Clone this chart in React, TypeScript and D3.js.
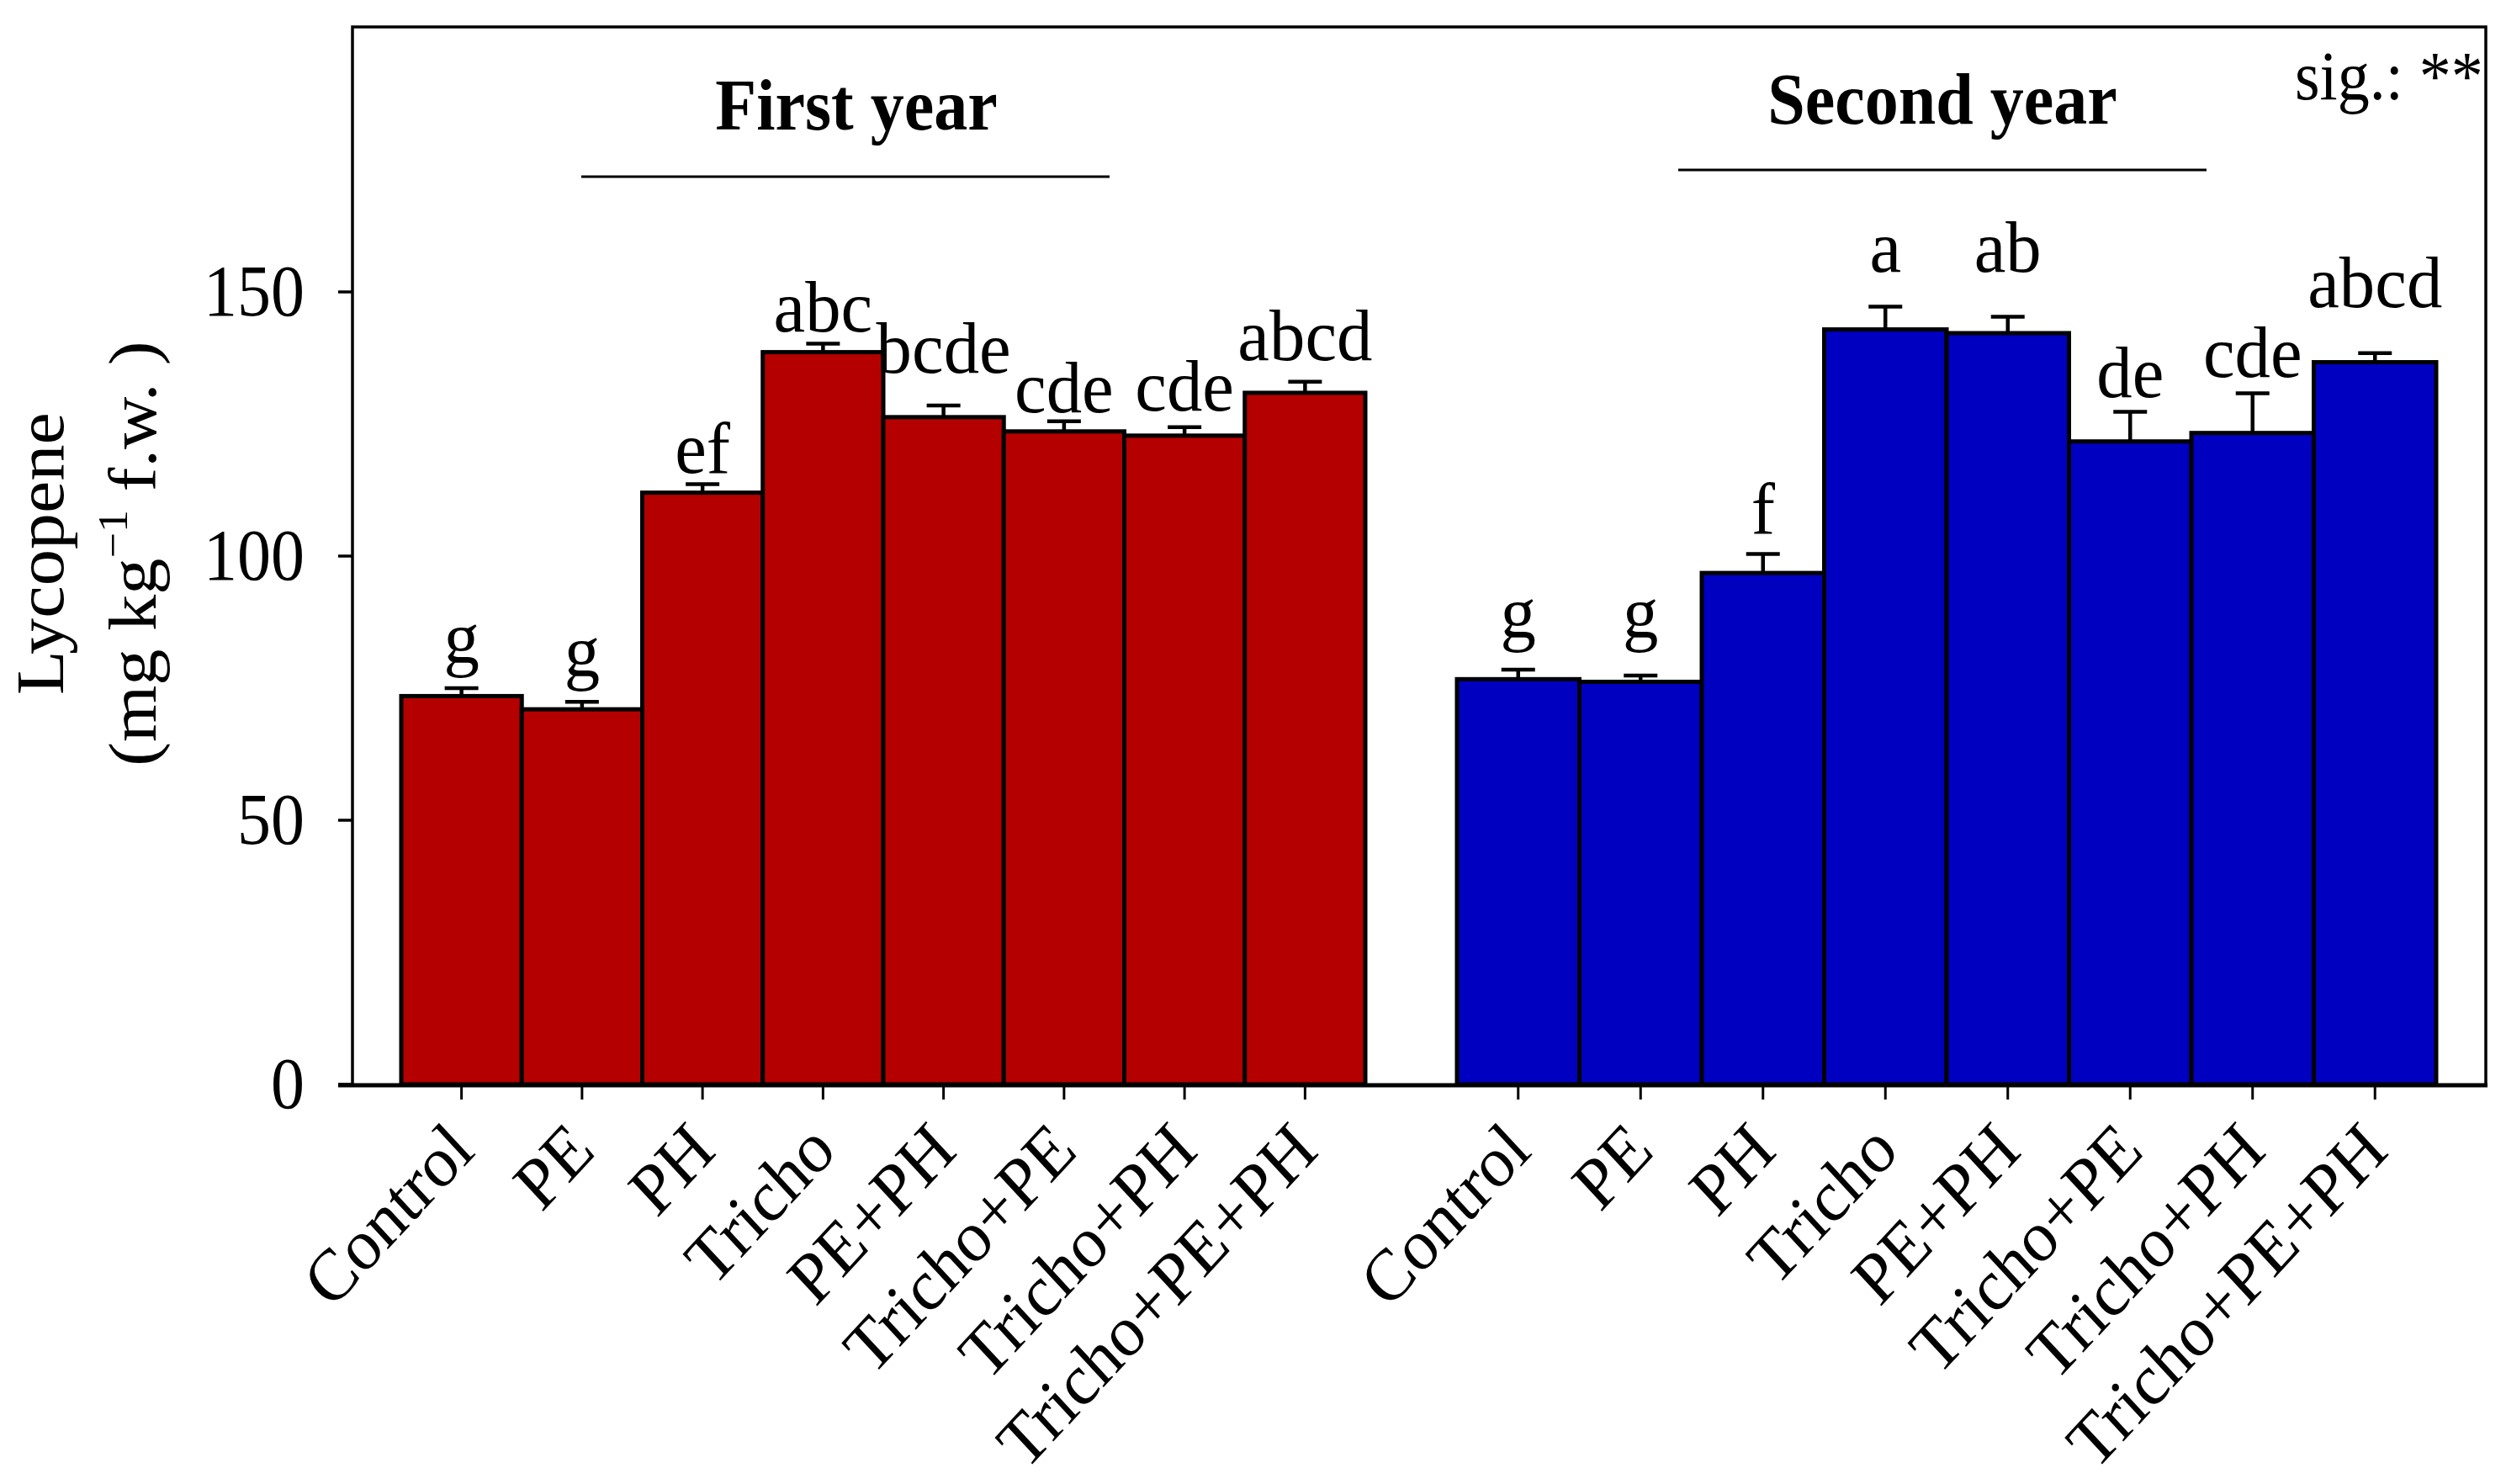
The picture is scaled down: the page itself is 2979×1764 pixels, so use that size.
import React from "react";
import * as d3 from "d3";

const categories = ["Control", "PE", "PH", "Tricho", "PE+PH", "Tricho+PE", "Tricho+PH", "Tricho+PE+PH"];
const year1 = [73.5, 71.0, 112.0, 138.6, 126.3, 123.6, 122.8, 130.9];
const year1Err = [1.5, 1.4, 1.6, 1.6, 2.2, 1.9, 1.6, 2.1];
const year2 = [76.7, 76.2, 96.8, 142.9, 142.2, 121.7, 123.3, 136.7];
const year2Err = [1.8, 1.2, 3.6, 4.3, 3.1, 5.6, 7.5, 1.7];
const letters1 = ["g", "g", "ef", "abc", "bcde", "cde", "cde", "abcd"];
const letters2 = ["g", "g", "f", "a", "ab", "de", "cde", "abcd"];
const yTicks = [0, 50, 100, 150];
const groupTitles = ["First year", "Second year"];
const sigText = "sig.: **";

// layout (pixels)
const W = 2979, H = 1764;
const FL = 419, FR = 2955, FT = 32, FB = 1290;
const FONT = "'Liberation Serif', 'Times New Roman', serif";
const K = 1.08; // vertical stretch of text
const labelGap1 = [31, 31, 14, 15, 39, 11, 20, 26];
const labelGap2 = [39, 46, 24, 42, 54, 18, 20, 55];

const RED = "#b50000";
const BLUE = "#0000c0";

export default function App() {
  const y = d3.scaleLinear().domain([0, 200]).range([1289, 33]);
  const x1 = d3.scaleBand<string>().domain(categories).range([477, 1623]).padding(0);
  const x2 = d3.scaleBand<string>().domain(categories).range([1732, 2896]).padding(0);

  const groups = [
    { x: x1, vals: year1, errs: year1Err, letters: letters1, gaps: labelGap1, color: RED, key: "g1" },
    { x: x2, vals: year2, errs: year2Err, letters: letters2, gaps: labelGap2, color: BLUE, key: "g2" },
  ];

  const T = (x: number, yy: number, extra = "", sx = 1) => `translate(${x},${yy}) scale(${sx},${K}) ${extra}`;

  return (
    <svg width={W} height={H} style={{ position: "absolute", left: 0, top: 0, display: "block", background: "#fff" }}
      fontFamily={FONT}>
      <rect x={0} y={0} width={W} height={H} fill="#fff" />
      {/* bars */}
      {groups.map((g) => (
        <g key={g.key}>
          {categories.map((c, i) => (
            <rect key={c} x={g.x(c)!} y={y(g.vals[i])} width={g.x.bandwidth()} height={y(0) - y(g.vals[i])}
              fill={g.color} stroke="#000" strokeWidth={5} />
          ))}
          {categories.map((c, i) => {
            const cx = g.x(c)! + g.x.bandwidth() / 2;
            const top = y(g.vals[i] + g.errs[i]);
            return (
              <g key={c + "e"} stroke="#000" strokeWidth={4.5}>
                <line x1={cx} x2={cx} y1={y(g.vals[i])} y2={top} />
                <line x1={cx - 20} x2={cx + 20} y1={top} y2={top} />
              </g>
            );
          })}
          {categories.map((c, i) => {
            const cx = g.x(c)! + g.x.bandwidth() / 2;
            const top = y(g.vals[i] + g.errs[i]);
            return (
              <text key={c + "l"} transform={T(cx, top - g.gaps[i], "", 1.06)} textAnchor="middle" fontSize={80} fill="#000">
                {g.letters[i]}
              </text>
            );
          })}
        </g>
      ))}
      {/* frame */}
      <rect x={FL} y={FT} width={FR - FL} height={FB - FT} fill="none" stroke="#000" strokeWidth={3.5} />
      <line x1={402} x2={FR + 2} y1={FB} y2={FB} stroke="#000" strokeWidth={5} />
      {/* y ticks */}
      {yTicks.map((t) => (
        <g key={t}>
          <line x1={402} x2={FL} y1={y(t)} y2={y(t)} stroke="#000" strokeWidth={3.5} />
          <text transform={T(362, y(t) + 28)} textAnchor="end" fontSize={80} fill="#000">{t}</text>
        </g>
      ))}
      {/* x ticks and labels */}
      {groups.map((g) =>
        categories.map((c) => {
          const cx = g.x(c)! + g.x.bandwidth() / 2;
          return (
            <g key={g.key + c + "t"}>
              <line x1={cx} x2={cx} y1={FB} y2={1307} stroke="#000" strokeWidth={3} />
              <text transform={T(cx + 18, 1371, "rotate(-45)")} textAnchor="end" fontSize={80} fill="#000">{c}</text>
            </g>
          );
        })
      )}
      {/* group titles */}
      <text transform={T(1018, 154)} textAnchor="middle" fontSize={80} fontWeight="bold" fill="#000">{groupTitles[0]}</text>
      <line x1={691} x2={1319} y1={210} y2={210} stroke="#000" strokeWidth={3} />
      <text transform={T(2309, 147)} textAnchor="middle" fontSize={80} fontWeight="bold" fill="#000">{groupTitles[1]}</text>
      <line x1={1995} x2={2623} y1={202} y2={202} stroke="#000" strokeWidth={3} />
      <text transform={T(2728, 118)} textAnchor="start" fontSize={76} fill="#000">{sigText}</text>
      {/* y axis title */}
      <text transform={T(75, 658, "rotate(-90)")} textAnchor="middle" fontSize={80} fill="#000">Lycopene</text>
      <text transform={T(185, 658, "rotate(-90)")} textAnchor="middle" fontSize={80} fill="#000">
        (mg kg<tspan fontSize={50} dy={-34}>−1</tspan><tspan dy={34}> f.w. )</tspan>
      </text>
    </svg>
  );
}
